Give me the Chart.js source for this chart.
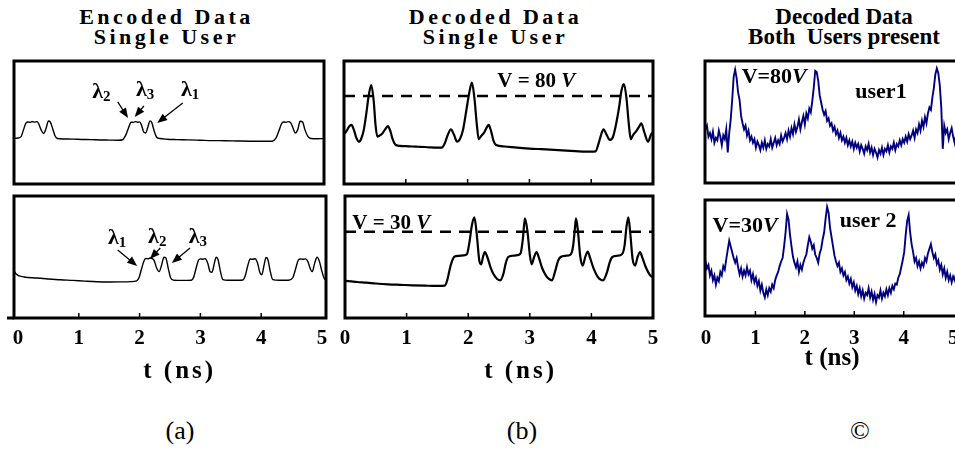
<!DOCTYPE html>
<html>
<head>
<meta charset="utf-8">
<script src="https://cdn.jsdelivr.net/npm/chart.js@4.4.1/dist/chart.umd.min.js"></script>
<style>
  body { margin: 0; width: 955px; height: 450px; overflow: hidden; position: relative; background: #fff; }
  canvas { position: absolute; }
  .head { position: absolute; top: 7px; width: 300px; text-align: center; color: #000;
          font: bold 22px/20px "Liberation Serif", serif; letter-spacing: 3.5px; padding-left: 3.5px; white-space: pre; }
  .head.plain { font-size: 23px; letter-spacing: 0; padding-left: 0; }
  .tag { position: absolute; top: 416px; width: 80px; text-align: center; color: #000;
         font: 26px/30px "Liberation Serif", serif; }
</style>
</head>
<body>
<div class="head" style="left:13px">Encoded Data
Single User</div>
<div class="head" style="left:342px">Decoded Data
Single User</div>
<div class="head plain" style="left:694px">Decoded Data
Both  Users present</div>

<canvas id="a1" width="330" height="133" style="left:4px;top:56px"></canvas>
<canvas id="a2" width="332" height="199" style="left:4px;top:191px"></canvas>
<canvas id="b1" width="329" height="133" style="left:334px;top:56px"></canvas>
<canvas id="b2" width="328" height="199" style="left:335px;top:191px"></canvas>
<canvas id="c1" width="280" height="132" style="left:695px;top:56px"></canvas>
<canvas id="c2" width="280" height="182" style="left:695px;top:195px"></canvas>

<div class="tag" style="left:140px">(a)</div>
<div class="tag" style="left:482px">(b)</div>
<div class="tag" style="left:820px">©</div>

<script>
// time axis (ns)
var timeTicks = [0, 1, 2, 3, 4, 5];
var innerTicks = [1, 2, 3, 4];

// encoded data, single user (top) and several bits (bottom) - [t, level]
var encodedTop = [[-0.07,37.2],[0,37.4],[0.05,38.5],[0.09,44],[0.13,49.5],[0.17,50.4],[0.2,50.1],[0.23,50.8],[0.27,50.3],[0.31,50.7],[0.34,49],[0.38,44],[0.42,41],[0.46,45],[0.5,51.2],[0.53,50.5],[0.57,45],[0.61,39],[0.65,37],[0.75,36.6],[0.9,36.5],[1.05,36.2],[1.2,36.1],[1.35,35.8],[1.5,35.7],[1.65,35.6],[1.72,36],[1.77,39.5],[1.82,46],[1.86,50.2],[1.9,50.1],[1.93,50.7],[1.97,50.2],[2,50.5],[2.03,48],[2.07,42],[2.1,41.5],[2.14,47],[2.17,51.3],[2.2,50],[2.24,43],[2.28,38],[2.33,37],[2.45,36.4],[2.6,36.1],[2.8,35.9],[3,35.6],[3.2,35.3],[3.4,35.2],[3.6,35],[3.8,34.8],[4,34.7],[4.18,34.8],[4.24,37],[4.29,43],[4.34,49.5],[4.38,50.4],[4.41,50.1],[4.44,50.7],[4.48,50.2],[4.52,46],[4.56,41.5],[4.6,44],[4.64,51],[4.68,50.5],[4.72,44],[4.77,38.5],[4.82,37],[4.92,36.8],[5.03,36.9]];
var encodedBottom = [[-0.07,39],[-0.03,36],[0.02,34.5],[0.1,33.6],[0.3,32.8],[0.5,32],[0.7,31.3],[0.9,30.8],[1.1,30.2],[1.3,29.7],[1.5,29.5],[1.7,29.6],[1.85,29.8],[1.95,30.5],[1.99,33],[2.03,40],[2.07,46.5],[2.1,48.8],[2.14,48.5],[2.17,49.2],[2.21,48.7],[2.24,47],[2.28,41],[2.32,38],[2.36,43],[2.4,49.8],[2.43,49.3],[2.47,41],[2.51,33],[2.56,31],[2.7,30.8],[2.85,31],[2.89,33.5],[2.93,41],[2.97,47.5],[3,48.5],[3.04,48.2],[3.08,48.6],[3.12,45],[3.16,38],[3.19,37.5],[3.23,45],[3.26,49.8],[3.29,48],[3.33,38],[3.37,31.5],[3.45,31],[3.6,31],[3.7,31.2],[3.74,35],[3.78,43],[3.82,48.3],[3.86,48.1],[3.9,48.6],[3.94,45],[3.98,37],[4.01,35.5],[4.05,44],[4.08,49.6],[4.11,48],[4.15,38],[4.19,31.5],[4.3,31],[4.45,31],[4.52,33],[4.57,41],[4.61,47.5],[4.65,48.4],[4.69,48.1],[4.73,48.5],[4.77,46],[4.81,40],[4.84,38],[4.88,45],[4.92,49.8],[4.96,46],[5,38],[5.04,32],[5.07,31]];

// decoded data, single user
var decodedV80 = [[0,40.5],[0.04,43],[0.08,46.5],[0.12,48],[0.16,44],[0.2,37.5],[0.24,34.4],[0.28,37],[0.32,44],[0.36,57],[0.4,72],[0.44,80.5],[0.48,68],[0.51,48],[0.54,38.5],[0.58,39.5],[0.62,41],[0.66,44],[0.71,47],[0.75,43],[0.79,36],[0.83,32],[0.9,31],[1,30.8],[1.1,30.5],[1.2,30.3],[1.3,30.1],[1.4,29.7],[1.5,29.5],[1.58,29.6],[1.63,33],[1.68,40],[1.73,44.4],[1.78,40],[1.83,34.4],[1.88,37],[1.93,45],[1.98,60],[2.03,75],[2.07,82.4],[2.11,70],[2.15,48],[2.18,36.5],[2.22,39],[2.27,42],[2.31,46],[2.34,48],[2.38,43],[2.42,35],[2.46,31.7],[2.6,30.5],[2.8,29.5],[3,28.8],[3.2,28.3],[3.4,27.8],[3.6,27.2],[3.8,26.6],[4,26.3],[4.07,26.5],[4.12,33],[4.16,40],[4.2,44.4],[4.25,40],[4.3,35.8],[4.35,38],[4.4,48],[4.45,62],[4.49,76],[4.53,81.3],[4.57,70],[4.61,48],[4.64,36.5],[4.68,40],[4.73,43],[4.78,47],[4.81,49.3],[4.86,42],[4.92,34.4],[4.97,40.5],[5,42]];
var decodedV30 = [[0,30.5],[0.1,30],[0.2,29.5],[0.35,29],[0.5,28.3],[0.7,27.6],[0.9,27.2],[1.1,26.8],[1.3,26.5],[1.5,26.3],[1.62,26.5],[1.66,31],[1.7,40],[1.74,47],[1.78,50.5],[1.85,51],[1.92,51.3],[1.98,52.5],[2.02,62],[2.06,76],[2.1,82.4],[2.14,68],[2.18,47],[2.21,44],[2.24,50],[2.27,54],[2.31,50],[2.36,42],[2.41,36],[2.47,32],[2.52,30.9],[2.57,36],[2.61,45],[2.65,50],[2.72,51],[2.8,51.5],[2.85,53],[2.89,66],[2.92,81.6],[2.96,72],[3,52],[3.03,44],[3.07,50],[3.11,54],[3.15,49],[3.2,41],[3.26,35],[3.31,32],[3.36,30.9],[3.41,38],[3.46,47],[3.5,50],[3.58,51],[3.66,52],[3.7,58],[3.73,72],[3.75,81.6],[3.78,72],[3.82,50],[3.86,43],[3.9,50],[3.94,54.5],[3.98,49],[4.04,40],[4.1,34],[4.15,31.5],[4.19,30.9],[4.25,37],[4.3,46],[4.34,50],[4.42,51],[4.5,52.5],[4.54,60],[4.57,75],[4.6,82.4],[4.63,70],[4.67,48],[4.71,43],[4.75,50],[4.79,54],[4.83,49],[4.88,42],[4.94,36],[5,33]];

// decoded data, both users present
var bothUser1 = [[-0.04,50],[-0.01,44],[0.02,47],[0.05,38],[0.08,41],[0.11,36],[0.14,42],[0.17,33],[0.2,37],[0.23,35],[0.26,43],[0.29,38],[0.32,31],[0.35,39],[0.38,36],[0.41,44],[0.44,25],[0.47,41],[0.5,52],[0.53,68],[0.56,87],[0.59,93],[0.62,86],[0.65,74],[0.68,68],[0.71,55],[0.74,49],[0.77,44],[0.8,47],[0.83,39],[0.86,43],[0.89,35],[0.92,38],[0.95,33],[0.98,36],[1.01,29],[1.04,34],[1.07,31],[1.1,27],[1.13,33],[1.16,29],[1.19,35],[1.22,28],[1.25,32],[1.28,30],[1.31,36],[1.34,29],[1.37,33],[1.4,37],[1.43,31],[1.46,35],[1.49,32],[1.52,39],[1.55,34],[1.58,37],[1.61,41],[1.64,36],[1.67,43],[1.7,38],[1.73,45],[1.76,40],[1.79,48],[1.82,42],[1.85,46],[1.88,52],[1.91,44],[1.94,50],[1.97,55],[2,48],[2.03,57],[2.06,53],[2.09,61],[2.12,58],[2.15,67],[2.18,78],[2.21,92],[2.24,91],[2.27,84],[2.3,72],[2.33,66],[2.36,60],[2.39,56],[2.42,59],[2.45,51],[2.48,53],[2.51,47],[2.54,49],[2.57,43],[2.6,46],[2.63,40],[2.66,43],[2.69,37],[2.72,41],[2.75,35],[2.78,38],[2.81,33],[2.84,37],[2.87,31],[2.9,35],[2.93,30],[2.96,34],[2.99,28],[3.02,33],[3.05,29],[3.08,32],[3.11,26],[3.14,31],[3.17,28],[3.2,24],[3.23,30],[3.26,27],[3.29,32],[3.32,25],[3.35,29],[3.38,23],[3.41,28],[3.44,25],[3.47,21],[3.5,27],[3.53,24],[3.56,29],[3.59,23],[3.62,28],[3.65,26],[3.68,31],[3.71,25],[3.74,30],[3.77,28],[3.8,33],[3.83,27],[3.86,32],[3.89,30],[3.92,35],[3.95,31],[3.98,36],[4.01,33],[4.04,38],[4.07,34],[4.1,40],[4.13,36],[4.16,39],[4.19,43],[4.22,37],[4.25,44],[4.28,41],[4.31,48],[4.34,43],[4.37,51],[4.4,46],[4.43,54],[4.46,49],[4.49,57],[4.52,62],[4.55,60],[4.58,70],[4.61,78],[4.64,89],[4.67,94],[4.7,90],[4.73,80],[4.76,62],[4.79,28],[4.82,47],[4.85,41],[4.88,44],[4.91,36],[4.94,41],[4.97,45],[5,38],[5.03,33],[5.06,40],[5.09,37],[5.12,42],[5.15,36],[5.18,40],[5.21,38],[5.24,41]];
var bothUser2 = [[-0.04,42],[-0.01,47],[0.02,41],[0.05,44],[0.08,35],[0.11,39],[0.14,31],[0.17,35],[0.2,27],[0.23,33],[0.26,30],[0.29,38],[0.32,35],[0.35,43],[0.38,40],[0.41,49],[0.44,57],[0.47,65],[0.5,60],[0.53,55],[0.56,50],[0.59,46],[0.62,50],[0.65,42],[0.68,36],[0.71,41],[0.74,34],[0.77,39],[0.8,35],[0.83,42],[0.86,36],[0.89,39],[0.92,31],[0.95,36],[0.98,29],[1.01,33],[1.04,26],[1.07,30],[1.1,22],[1.13,27],[1.16,20],[1.19,16],[1.22,23],[1.25,18],[1.28,24],[1.31,21],[1.34,27],[1.37,24],[1.4,31],[1.43,35],[1.46,38],[1.49,43],[1.52,47],[1.55,50],[1.58,60],[1.61,72],[1.64,88],[1.67,83],[1.7,70],[1.73,60],[1.76,51],[1.79,46],[1.82,42],[1.85,47],[1.88,38],[1.91,44],[1.94,40],[1.97,46],[2,50],[2.03,53],[2.06,61],[2.09,68],[2.12,64],[2.15,58],[2.18,61],[2.21,53],[2.24,50],[2.27,46],[2.3,54],[2.33,58],[2.36,66],[2.39,72],[2.42,84],[2.45,94],[2.48,89],[2.51,76],[2.54,68],[2.57,60],[2.6,52],[2.63,47],[2.66,43],[2.69,46],[2.72,38],[2.75,41],[2.78,35],[2.81,38],[2.84,31],[2.87,34],[2.9,28],[2.93,32],[2.96,25],[2.99,29],[3.02,22],[3.05,26],[3.08,19],[3.11,24],[3.14,17],[3.17,22],[3.2,15],[3.23,20],[3.26,18],[3.29,24],[3.32,16],[3.35,21],[3.38,14],[3.41,19],[3.44,12],[3.47,18],[3.5,16],[3.53,22],[3.56,15],[3.59,20],[3.62,17],[3.65,23],[3.68,18],[3.71,24],[3.74,20],[3.77,26],[3.8,23],[3.83,28],[3.86,27],[3.89,33],[3.92,36],[3.95,42],[3.98,48],[4.01,55],[4.04,70],[4.07,82],[4.1,87],[4.13,72],[4.16,62],[4.19,55],[4.22,47],[4.25,50],[4.28,43],[4.31,47],[4.34,41],[4.37,46],[4.4,43],[4.43,50],[4.46,47],[4.49,54],[4.52,58],[4.55,62],[4.58,55],[4.61,50],[4.64,53],[4.67,45],[4.7,48],[4.73,40],[4.76,44],[4.79,36],[4.82,41],[4.85,33],[4.88,38],[4.91,31],[4.94,35],[4.97,29],[5,34],[5.03,31],[5.06,37],[5.09,33],[5.12,38],[5.15,34],[5.18,37],[5.21,33],[5.24,36]];

// decision thresholds
var levelV80 = 71.5;
var levelV30 = 70.7;

var SERIF = '"Liberation Serif", "Times New Roman", serif';
var BOLD = 'bold 21px ' + SERIF;
var LAM = 'bold 22px ' + SERIF;
var SUB = 'bold 15px ' + SERIF;

function arrow(ctx, x0, y0, x1, y1) {
    var a = Math.atan2(y1 - y0, x1 - x0), h = 10, w = 4;
    ctx.beginPath();
    ctx.moveTo(x0, y0);
    ctx.lineTo(x1 - Math.cos(a) * h * 0.8, y1 - Math.sin(a) * h * 0.8);
    ctx.stroke();
    ctx.beginPath();
    ctx.moveTo(x1, y1);
    ctx.lineTo(x1 - h * Math.cos(a) + w * Math.sin(a), y1 - h * Math.sin(a) - w * Math.cos(a));
    ctx.lineTo(x1 - h * Math.cos(a) - w * Math.sin(a), y1 - h * Math.sin(a) + w * Math.cos(a));
    ctx.closePath();
    ctx.fill();
}

var framePlugin = {
    id: 'frame',
    afterDatasetsDraw: function(chart, args, opts) {
        var ctx = chart.ctx, a = chart.chartArea, x = chart.scales.x, y = chart.scales.y;
        ctx.save();
        ctx.strokeStyle = '#000';
        ctx.lineWidth = 3;
        ctx.strokeRect(a.left, a.top, a.right - a.left, a.bottom - a.top);
        if (opts.stub) {
            ctx.beginPath();
            ctx.moveTo(a.left - opts.stub, a.bottom);
            ctx.lineTo(a.left, a.bottom);
            ctx.stroke();
        }
        ctx.lineWidth = 1.5;
        (opts.marks || []).forEach(function(v) {
            var px = x.getPixelForValue(v);
            ctx.beginPath();
            ctx.moveTo(px, a.bottom);
            ctx.lineTo(px, a.bottom - 5);
            ctx.stroke();
        });
        ctx.fillStyle = '#000';
        ctx.textBaseline = 'middle';
        // axis title, centred where the original put it
        if (opts.title) {
            ctx.textAlign = 'center';
            ctx.font = 'bold 25px ' + SERIF;
            ctx.letterSpacing = opts.spacing || '0px';
            ctx.fillText(opts.title, x.getPixelForValue(opts.titleAt), a.bottom + opts.titleDy);
            ctx.letterSpacing = '0px';
        }
        // labels and arrows
        ctx.textAlign = 'left';
        (opts.notes || []).forEach(function(n) {
            var w = 0;
            n.parts.forEach(function(p) { ctx.font = p[1]; w += ctx.measureText(p[0]).width; });
            var cx = x.getPixelForValue(n.x) - w / 2, cy = y.getPixelForValue(n.y);
            n.parts.forEach(function(p) {
                ctx.font = p[1];
                ctx.fillText(p[0], cx, cy + (p[2] || 0));
                cx += ctx.measureText(p[0]).width;
            });
            if (n.arrow) {
                ctx.lineWidth = 1.3;
                arrow(ctx, x.getPixelForValue(n.arrow[0]), y.getPixelForValue(n.arrow[1]),
                      x.getPixelForValue(n.arrow[2]), y.getPixelForValue(n.arrow[3]));
            }
        });
        ctx.restore();
    }
};

function makeChart(id, o) {
    var sets = [{
        data: o.points.map(function(p) { return {x: p[0], y: p[1]}; }),
        borderColor: o.color || '#000',
        borderWidth: o.width || 1.4,
        pointRadius: 0,
        cubicInterpolationMode: o.smooth ? 'monotone' : 'default',
        tension: 0
    }];
    if (o.level !== undefined) {
        sets.push({
            data: [{x: o.min, y: o.level}, {x: o.max, y: o.level}],
            borderColor: '#000', borderWidth: 2.5, borderDash: [11, 8], pointRadius: 0
        });
    }
    return new Chart(document.getElementById(id), {
        type: 'line',
        data: {datasets: sets},
        options: {
            responsive: false,
            animation: false,
            layout: {padding: {left: 10, right: 10, top: 5, bottom: o.axis ? 0 : 5}},
            plugins: {
                legend: {display: false},
                tooltip: {enabled: false},
                frame: {marks: o.marks, notes: o.notes, stub: o.stub, spacing: o.spacing,
                        title: o.axis ? 't (ns)' : null, titleAt: o.titleAt, titleDy: o.titleDy}
            },
            scales: {
                x: {
                    type: 'linear', min: o.min, max: o.max, display: !!o.axis,
                    afterBuildTicks: function(s) { s.ticks = timeTicks.map(function(v) { return {value: v}; }); },
                    afterFit: function(s) { if (o.axis) s.height = o.axis; },
                    grid: {display: false},
                    border: {display: false},
                    ticks: {color: '#000', padding: o.tickPad, maxRotation: 0, autoSkip: false,
                            font: {family: SERIF, size: 21, weight: 'bold'}}
                },
                y: {min: 0, max: 100, display: false}
            }
        },
        plugins: [framePlugin]
    });
}

makeChart('a1', {
    points: encodedTop, min: -0.066, max: 5.033, smooth: true, width: 1.4,
    notes: [
        {x: 1.37, y: 74.8, parts: [['λ', LAM], ['2', SUB, 5]], arrow: [1.64, 66.7, 1.81, 53.7]},
        {x: 2.09, y: 76.4, parts: [['λ', LAM], ['3', SUB, 5]], arrow: [2.07, 63.4, 1.92, 54.5]},
        {x: 2.83, y: 76.4, parts: [['λ', LAM], ['1', SUB, 5]], arrow: [2.71, 65.9, 2.29, 49.6]}
    ]
});
makeChart('a2', {
    points: encodedBottom, min: -0.066, max: 5.066, smooth: true, width: 1.4,
    axis: 72, tickPad: 0, marks: innerTicks, stub: 7, spacing: '3px', titleAt: 2.66, titleDy: 54,
    notes: [
        {x: 1.63, y: 65.6, parts: [['λ', LAM], ['1', SUB, 5]], arrow: [1.64, 55.7, 1.96, 42.6]},
        {x: 2.29, y: 66.4, parts: [['λ', LAM], ['2', SUB, 5]], arrow: [2.34, 57.4, 2.17, 48.4]},
        {x: 2.96, y: 66.4, parts: [['λ', LAM], ['3', SUB, 5]], arrow: [2.83, 57.4, 2.53, 45.1]}
    ]
});
makeChart('b1', {
    points: decodedV80, min: 0, max: 5, smooth: true, width: 2.2, level: levelV80, marks: innerTicks,
    notes: [{x: 3.11, y: 82.9, parts: [['V = 80 ', BOLD], ['V', 'italic bold 21px ' + SERIF]]}]
});
makeChart('b2', {
    points: decodedV30, min: 0, max: 5, smooth: true, width: 2.2, level: levelV30,
    axis: 72, tickPad: 0, marks: innerTicks, spacing: '3px', titleAt: 2.85, titleDy: 54,
    notes: [{x: 0.75, y: 77.2, parts: [['V = 30 ', BOLD], ['V', 'italic bold 21px ' + SERIF]]}]
});
makeChart('c1', {
    points: bothUser1, min: -0.02, max: 5.24, color: '#00007f', width: 1.9,
    notes: [
        {x: 1.38, y: 86.9, parts: [['V=80', 'bold 22px ' + SERIF], ['V', 'italic bold 22px ' + SERIF]]},
        {x: 3.54, y: 74.6, parts: [['user1', 'bold 22px ' + SERIF]]}
    ]
});
makeChart('c2', {
    points: bothUser2, min: -0.02, max: 5.24, color: '#00007f', width: 1.9,
    axis: 61, tickPad: 2, marks: innerTicks, titleAt: 2.55, titleDy: 43,
    notes: [
        {x: 0.79, y: 77.1, parts: [['V=30', 'bold 22px ' + SERIF], ['V', 'italic bold 22px ' + SERIF]]},
        {x: 3.28, y: 81.4, parts: [['user 2', 'bold 22px ' + SERIF]]}
    ]
});
</script>
</body>
</html>
